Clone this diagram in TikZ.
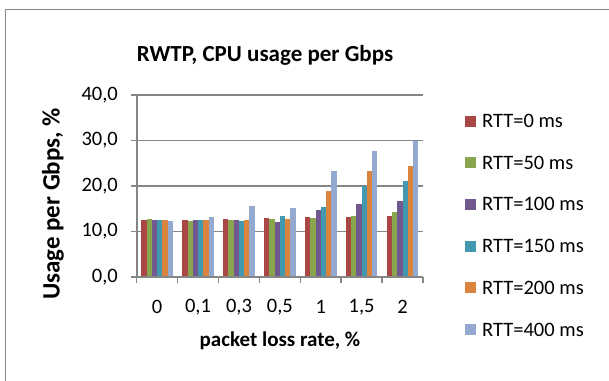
\documentclass[tikz,border=0pt]{standalone}
\usepackage{fontspec}
\setmainfont{Carlito}

\definecolor{ser1}{HTML}{AA4643}
\definecolor{ser2}{HTML}{89A54E}
\definecolor{ser3}{HTML}{71588F}
\definecolor{ser4}{HTML}{4198AF}
\definecolor{ser5}{HTML}{DB843D}
\definecolor{ser6}{HTML}{93A9CF}
\definecolor{axisgray}{HTML}{868686}

\tikzset{
  gridline/.style={draw=axisgray, line width=1.5pt},
  ticklabel/.style={font=\fontsize{20.5}{24}\selectfont, inner sep=0pt},
  axistitle/.style={font=\fontsize{21}{25}\selectfont\bfseries, inner sep=0pt},
  legendkey/.style={minimum size=11pt, inner sep=0pt}
}

\begin{document}
\begin{tikzpicture}[x=1pt,y=-1pt]
                \useasboundingbox (0,0) rectangle (609,380);
                \clip (0,0) rectangle (609,380);
                \draw[axisgray, line width=1pt] (5.5,9.5) rectangle (640,420);

                \node[font=\fontsize{23}{27}\selectfont\bfseries] (title) at (265,55) {RWTP, CPU usage per Gbps};

                % grid and value axis
                \foreach \v in {0,10,20,30,40} {
                    \draw[gridline] (131,277-\v*4.55) -- (423,277-\v*4.55);
                    \node[ticklabel, anchor=east] (ylab\v) at (118,277-\v*4.55) {\v,0};
                }
                \draw[gridline] (137,95) -- (137,277);
                \foreach \g in {0,...,7}
                    \draw[gridline] (136.7+\g*40.9,277) -- (136.7+\g*40.9,283);

                % bars, one group per loss rate
                \foreach \g/\vals in {0/{12.6,12.8,12.5,12.5,12.6,12.3}, 1/{12.6,12.4,12.6,12.5,12.5,13.2},
                        2/{12.8,12.6,12.5,12.3,12.6,15.7}, 3/{12.9,12.8,12.0,13.4,12.8,15.2},
                        4/{13.2,13.0,14.8,15.4,18.9,23.4}, 5/{13.2,13.3,16.0,20.0,23.2,27.6},
                        6/{13.4,14.2,16.6,21.2,24.3,30.0}} {
                    \foreach \h [count=\s] in \vals
                        \fill[ser\s] (136.7+\g*40.9+4.7+\s*5.25-5.25,277) rectangle ++(5.25,-\h*4.55);
                }
                \draw[gridline] (131,277) -- (423,277);

                % category labels
                \foreach \lab [count=\g from 0] in {0,{0,1},{0,3},{0,5},1,{1,5},2}
                    \node[ticklabel] (xlab\g) at (157.15+\g*40.9,307) {\lab};

                \node[axistitle] (xtitle) at (280,341) {packet loss rate, \%};
                \node[axistitle, font=\fontsize{25}{29}\selectfont\bfseries, rotate=90] (ytitle) at (53,204) {Usage per Gbps, \%};

                % legend
                \foreach \rtt [count=\s] in {0,50,100,150,200,400} {
                    \node[legendkey, fill=ser\s] (key\s) at (470,79.3+\s*41.7) {};
                    \node[ticklabel, anchor=west] (entry\s) at (482,79.3+\s*41.7) {RTT=\rtt{} ms};
                }
            \end{tikzpicture}
\end{document}
